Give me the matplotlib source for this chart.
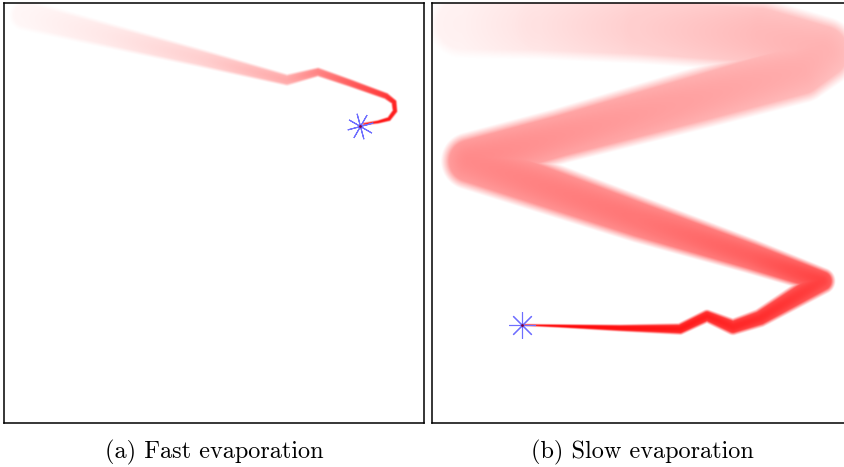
import numpy as np
import matplotlib
matplotlib.use("Agg")
import matplotlib.pyplot as plt

# plume centre line, panel pixel units (origin top-left)
# panel (a): fast evaporation, listed from the source outwards
xa = [360, 374, 385, 391, 390, 382, 346, 314, 283, 196, 106, 21]
ya = [121, 119, 116, 108, 99, 93, 80, 69, 77, 55, 33, 12]
wa = [2, 3, 4, 4.5, 5, 6, 7, 8, 10, 16, 22, 28]
aa = [0.95, 0.95, 0.92, 0.9, 0.88, 0.8, 0.65, 0.5, 0.35, 0.19, 0.1, 0.04]
src_a = (356, 122.7)

# panel (b): slow evaporation
xb = [92, 128, 188, 248, 275, 301, 328, 390, 318, 208, 38, 128, 268, 368,
      390, 328, 208, 108, 30]
yb = [322, 323, 325, 326, 313, 324, 315, 278, 253, 217, 158, 133, 95, 67,
      49, 32, 25, 22, 21]
wb = [1.5, 3, 6, 10, 11, 14, 16, 23, 30, 40, 50, 48, 54, 58, 62, 64, 62,
      60, 60]
ab = [1.0, 1.0, 0.97, 0.93, 0.9, 0.87, 0.84, 0.76, 0.64, 0.55, 0.47, 0.43,
      0.37, 0.33, 0.31, 0.28, 0.2, 0.12, 0.06]
src_b = (89.7, 322.3)

captions = ["(a) Fast evaporation", "(b) Slow evaporation"]

SIZE = 420


def plume_image(xs, ys, ws, al):
    # soft band along the polyline, width and opacity varying along it
    g = np.arange(0, SIZE, 0.5) + 0.25
    gx, gy = np.meshgrid(g, g)
    cov = np.zeros_like(gx)
    for i in range(len(xs) - 1):
        x0, y0, x1, y1 = xs[i], ys[i], xs[i + 1], ys[i + 1]
        dx, dy = x1 - x0, y1 - y0
        L2 = dx*dx + dy*dy
        t = np.clip(((gx - x0)*dx + (gy - y0)*dy) / L2, 0, 1)
        d = np.hypot(gx - (x0 + t*dx), gy - (y0 + t*dy))
        h = (ws[i] + t*(ws[i + 1] - ws[i])) / 2
        a = al[i] + t*(al[i + 1] - al[i])
        s = 1.2 + 0.3*h
        edge = np.clip((h - d)/s + 0.5, 0, 1)
        c = a * edge * (1 - 0.3*np.clip(d/(h + s/2), 0, 1)**2)
        cov = np.maximum(cov, c)
    img = np.zeros(cov.shape + (4,))
    img[..., 0] = 1.0
    img[..., 1] = 0.02
    img[..., 2] = 0.02
    img[..., 3] = cov
    return img


fig = plt.figure(figsize=(8.45, 4.67), dpi=100)
W, H = 845.0, 467.0
lefts = [4, 432]
data = [(xa, ya, wa, aa, src_a, 15), (xb, yb, wb, ab, src_b, 0)]

for k in range(2):
    ax = fig.add_axes([lefts[k]/W, 1 - 423/H, SIZE/W, SIZE/H])
    xs, ys, ws, al, src, rot = data[k]
    ax.imshow(plume_image(xs, ys, ws, al), extent=(0, SIZE, SIZE, 0),
              interpolation='bilinear', zorder=1)
    ax.plot(src[0], src[1], marker=(8, 2, rot), markersize=19,
            markeredgewidth=0.8, color='#6e6eff', zorder=3)
    ax.plot(src[0], src[1], marker='o', markersize=2, color='#800040',
            markeredgewidth=0, zorder=4)
    ax.set_xlim(0, SIZE)
    ax.set_ylim(SIZE, 0)
    ax.set_xticks([])
    ax.set_yticks([])
    for sp in ax.spines.values():
        sp.set_linewidth(1.1)
    fig.text((lefts[k] + SIZE/2)/W, 1 - 452/H, captions[k],
             ha='center', va='center', fontsize=17.5, family='cmr10')

fig.savefig('out.png', dpi=100)
